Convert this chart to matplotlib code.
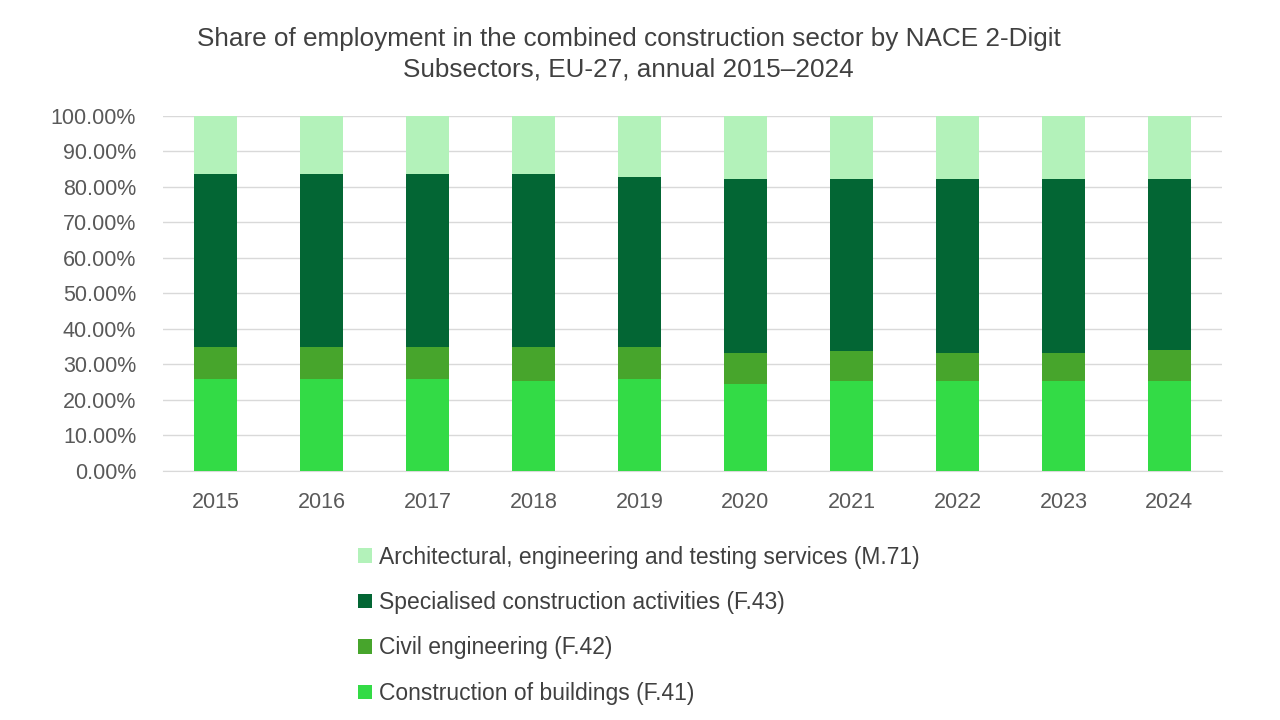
import matplotlib
matplotlib.use("Agg")
import matplotlib.pyplot as plt
from matplotlib.patches import Patch
from matplotlib.ticker import PercentFormatter
import numpy as np

years = ["2015", "2016", "2017", "2018", "2019", "2020", "2021", "2022", "2023", "2024"]

# shares in percent
buildings = [25.9, 25.9, 25.9, 25.4, 25.9, 24.6, 25.2, 25.2, 25.2, 25.2]
civil = [9.1, 9.1, 9.1, 9.6, 9.1, 8.6, 8.5, 8.0, 8.0, 8.9]
specialised = [48.7, 48.7, 48.7, 48.5, 47.8, 48.9, 48.4, 48.9, 48.9, 48.0]
architectural = [16.3, 16.3, 16.3, 16.5, 17.2, 17.9, 17.9, 17.9, 17.9, 17.9]

labels = [
    "Construction of buildings (F.41)",
    "Civil engineering (F.42)",
    "Specialised construction activities (F.43)",
    "Architectural, engineering and testing services (M.71)",
]
colors = ["#33DB46", "#47A52C", "#036634", "#B3F2BA"]

plt.rcParams["font.family"] = ["Liberation Sans", "DejaVu Sans"]

fig = plt.figure(figsize=(12.8, 7.2), dpi=100)
ax = fig.add_axes([0.127, 0.346, 0.828, 0.493])

x = np.arange(len(years))
bottom = np.zeros(len(years))
for vals, col in zip([buildings, civil, specialised, architectural], colors):
    ax.bar(x, vals, width=0.41, bottom=bottom, color=col, zorder=3)
    bottom += np.array(vals)

ax.set_xlim(-0.5, len(years) - 0.5)
ax.set_ylim(0, 100)
ax.set_yticks(np.arange(0, 101, 10))
ax.yaxis.set_major_formatter(PercentFormatter(decimals=2))
ax.set_xticks(x)
ax.set_xticklabels(years)
ax.grid(axis="y", color="#d9d9d9", linewidth=1, zorder=0)
for s in ["top", "right", "left"]:
    ax.spines[s].set_visible(False)
ax.spines["bottom"].set_color("#d9d9d9")
ax.tick_params(axis="both", length=0, labelsize=15.5, labelcolor="#595959")
ax.tick_params(axis="x", pad=15)
ax.tick_params(axis="y", pad=19)

fig.text(0.491, 0.962, "Share of employment in the combined construction sector by NACE 2-Digit\nSubsectors, EU-27, annual 2015\u20132024",
         ha="center", va="top", fontsize=18.8, color="#404040", linespacing=1.3)

handles = [Patch(facecolor=c, edgecolor="none") for c in colors]
fig.legend(handles[::-1], labels[::-1], loc="upper left", bbox_to_anchor=(0.2725, 0.255),
           frameon=False, fontsize=16.5, labelcolor="#404040", handlelength=0.6,
           handleheight=0.6, handletextpad=0.3, labelspacing=0.98, borderaxespad=0)

fig.savefig("out.png", dpi=100)
